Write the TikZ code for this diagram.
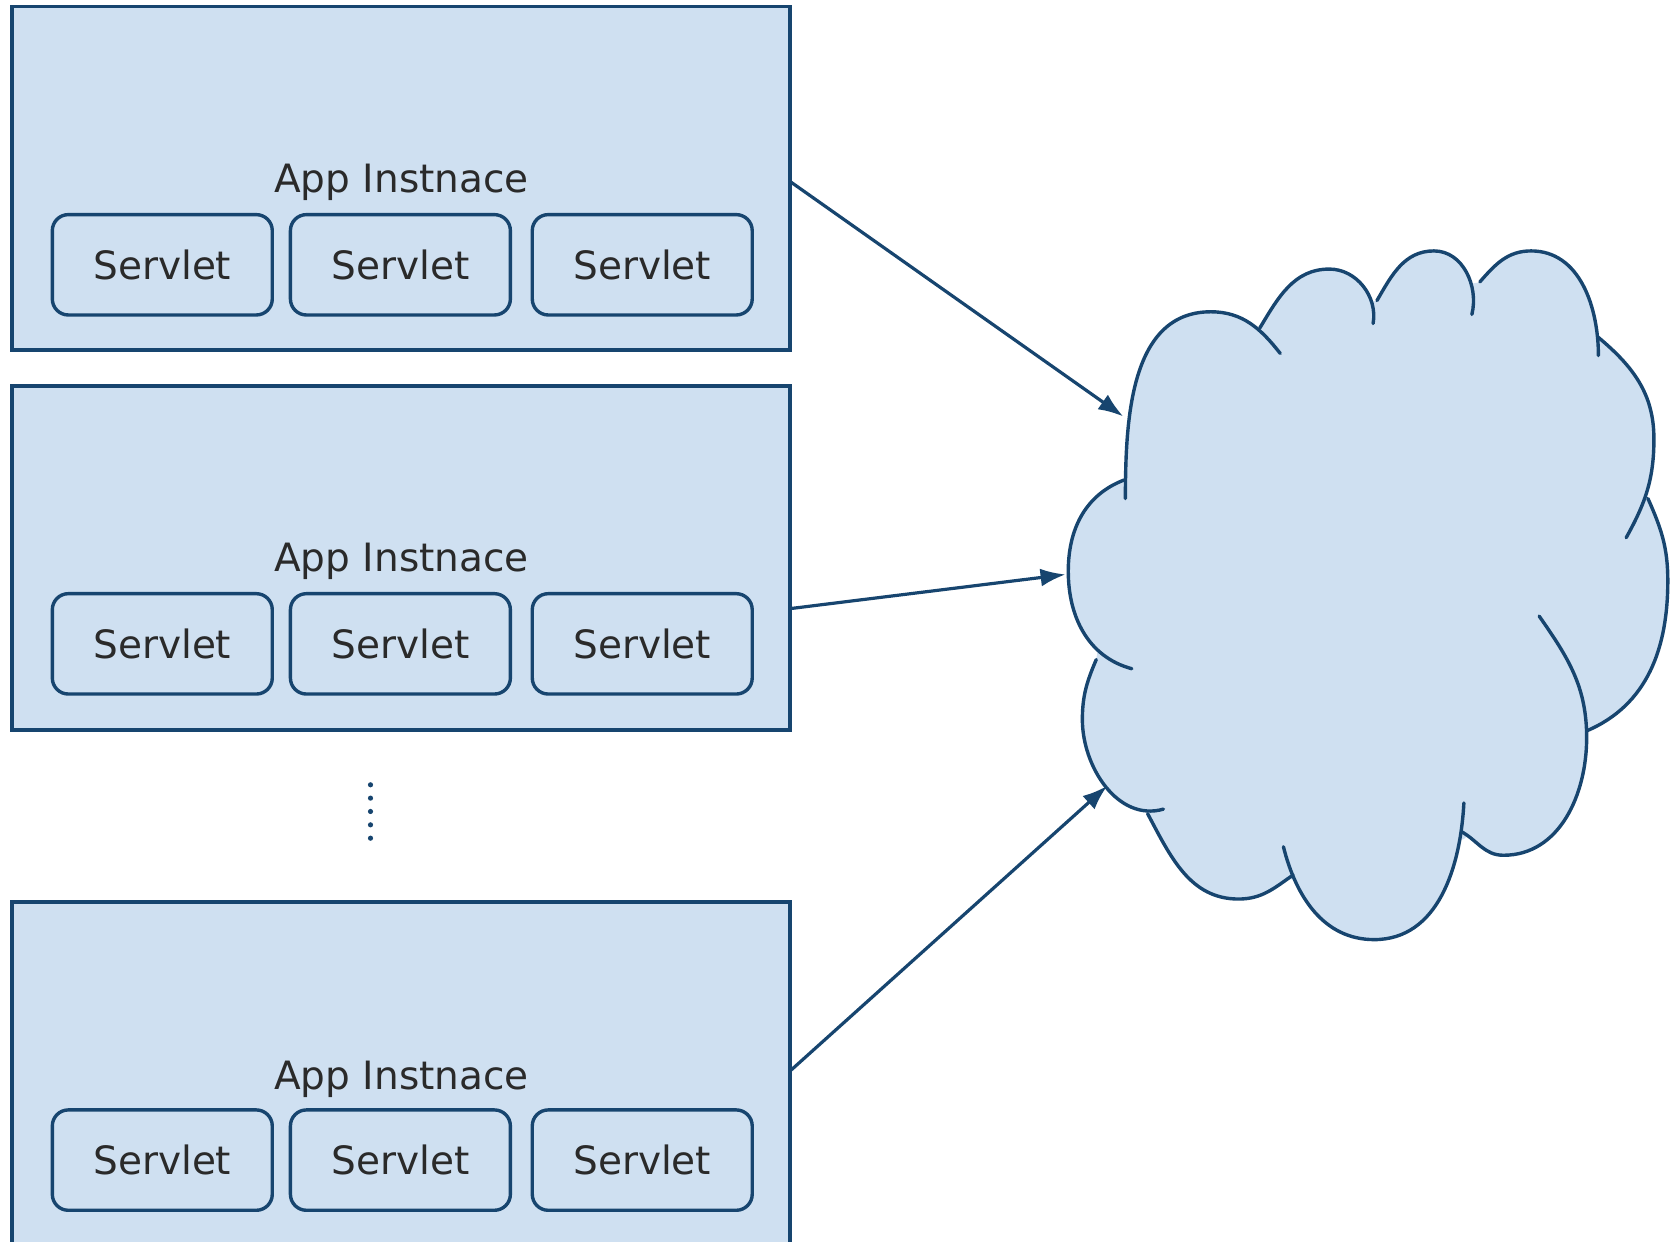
\documentclass[tikz,border=0pt]{standalone}
\usepackage{fontspec}
\setmainfont{DejaVu Sans}
\usetikzlibrary{arrows.meta}
\definecolor{fillb}{HTML}{CFE0F1}
\definecolor{lineb}{HTML}{17456F}
\definecolor{txt}{HTML}{2A2A2A}
% cloud lobes (coordinates with y pointing down, angles as seen on the page)
\newcommand\lobeA{(1054,467) to[out=90,in=180] (1134,292) to[out=0,in=128] (1199,331)}
\newcommand\lobeB{(1180,307) to[out=59,in=180] (1245,252) to[out=0,in=80] (1286,303)}
\newcommand\lobeC{(1289.6,281.5) to[out=60,in=180] (1343,235) to[out=0,in=76] (1378.5,294.5)}
\newcommand\lobeD{(1386,264) to[out=49,in=180] (1434,235) to[out=0,in=90] (1497,333)}
\newcommand\lobeE{(1497,316) to[out=320,in=90] (1549,411) to[out=270,in=61] (1523,503.6)}
\newcommand\lobeF{(1543.4,466.9) to[out=294,in=90] (1562,544) to[out=270,in=23] (1486,684.5)}
\newcommand\lobeG{(1441.5,577) to[out=305,in=90] (1486,691) to[out=270,in=0] (1408,801) to[out=180,in=330] (1369,779)}
\newcommand\lobeH{(1371,752) to[out=267,in=0] (1287,880) to[out=180,in=284] (1202,793)}
\newcommand\lobeI{(1211,819.5) to[out=215,in=0] (1160,842) to[out=180,in=298] (1074.8,762)}
\newcommand\lobeJ{(1026.7,617.7) to[out=247,in=90] (1013.7,674) to[out=270,in=196] (1089.6,757.8)}
\newcommand\lobeK{(1052.6,449.6) to[out=201,in=90] (1000.5,535) to[out=270,in=165] (1060,626.3)}
% the same two lobes run the other way round, for the fill
\newcommand\lobeJr{(1089.6,757.8) to[out=196,in=270] (1013.7,674) to[out=90,in=247] (1026.7,617.7)}
\newcommand\lobeKr{(1060,626.3) to[out=165,in=270] (1000.5,535) to[out=90,in=201] (1052.6,449.6)}
\begin{document}
\begin{tikzpicture}[x=0.5339pt,y=-0.5339pt,
  inst/.style={draw=lineb, fill=fillb, line width=1.8pt, minimum width=729*0.5339pt, minimum height=322*0.5339pt, inner sep=0pt},
  srv/.style={draw=lineb, fill=fillb, line width=1.7pt, rounded corners=8pt, minimum width=206*0.5339pt, minimum height=94*0.5339pt, inner sep=0pt, font=\fontsize{19.5}{23}\selectfont, text=txt},
  lbl/.style={font=\fontsize{19.5}{23}\selectfont, text=txt, inner sep=0pt, anchor=base},
  link/.style={draw=lineb, line width=1.6pt, -{Latex[length=12.5pt,width=9pt]}},
  cloudline/.style={draw=lineb, line width=1.7pt, line cap=round},
  cloudfill/.style={fill=fillb},
  dotmark/.style={circle, fill=lineb, inner sep=0pt, minimum size=2.6pt}
]
\useasboundingbox (0,0) rectangle (1565,1163.2);
% instances
\node[inst] (i1) at (375.5,167) {};
\node[inst] (i2) at (375.5,522.5) {};
\node[inst, minimum height=326*0.5339pt] (i3) at (375.5,1008) {};
% labels
\node[lbl] (l1) at (376,180) {App Instnace};
\node[lbl] (l2) at (376,535) {App Instnace};
\node[lbl] (l3) at (376,1020) {App Instnace};
% servlets
\node[srv] (s11) at (152,248) {Servlet};
\node[srv] (s12) at (375,248) {Servlet};
\node[srv] (s13) at (601.5,248) {Servlet};
\node[srv] (s21) at (152,603) {Servlet};
\node[srv] (s22) at (375,603) {Servlet};
\node[srv] (s23) at (601.5,603) {Servlet};
\node[srv] (s31) at (152,1086.5) {Servlet};
\node[srv] (s32) at (375,1086.5) {Servlet};
\node[srv] (s33) at (601.5,1086.5) {Servlet};
% dots
\foreach \k/\yy in {1/735,2/747.5,3/760,4/772.5,5/785}
  \node[dotmark] (d\k) at (347,\yy) {};
% cloud fill (one path, all parts turning the same way)
\fill[cloudfill] \lobeA \lobeB \lobeC \lobeD \lobeE \lobeF \lobeG \lobeH \lobeI \lobeJr \lobeKr
  (1052.6,449.6) -- (1180.4,307.4) -- (1289.6,281.5) -- (1386,264.3) -- (1497,316) -- (1543.4,466.9) -- (1486,684.5) -- (1371,785.8) -- (1212,824.6) -- (1074.8,762.1) -- (1026.7,617.7) -- cycle;
% cloud outline
\draw[cloudline] \lobeA;
\draw[cloudline] \lobeB;
\draw[cloudline] \lobeC;
\draw[cloudline] \lobeD;
\draw[cloudline] \lobeE;
\draw[cloudline] \lobeF;
\draw[cloudline] \lobeG;
\draw[cloudline] \lobeH;
\draw[cloudline] \lobeI;
\draw[cloudline] \lobeJ;
\draw[cloudline] \lobeK;
% connectors
\coordinate (p1) at (740,170);
\coordinate (c1) at (1052,390);
\coordinate (p2) at (740,570);
\coordinate (c2) at (998,538);
\coordinate (p3) at (740,1003);
\coordinate (c3) at (1037,736);
\draw[link] (p1) -- (c1);
\draw[link] (p2) -- (c2);
\draw[link] (p3) -- (c3);
\end{tikzpicture}
\end{document}
